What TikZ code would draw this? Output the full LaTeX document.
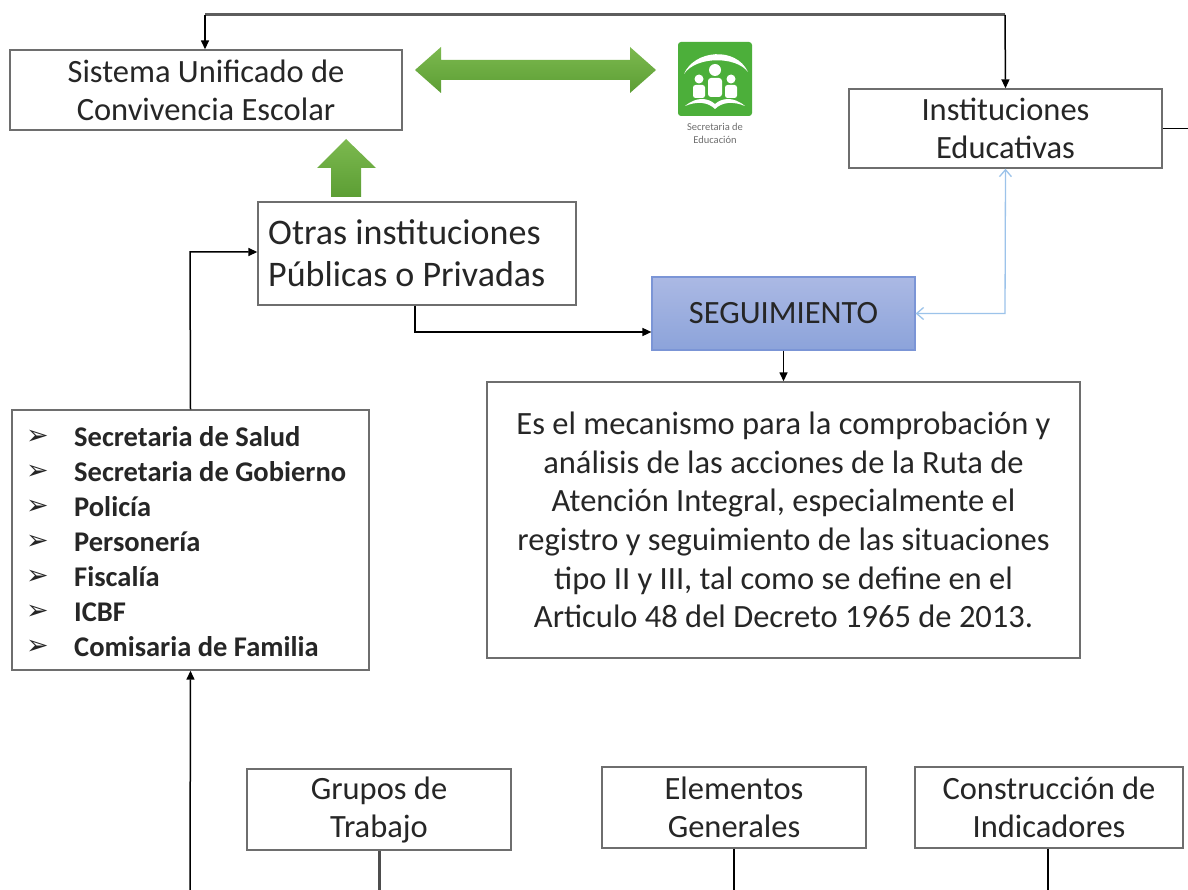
\documentclass[tikz,border=0pt]{standalone}
\usepackage{fontspec}
\setmainfont{Carlito}
\newfontfamily\dejavu{DejaVu Sans}
\usetikzlibrary{arrows.meta,positioning,calc}
\definecolor{boxgray}{HTML}{6E6E6E}
\definecolor{txt}{HTML}{262626}
\definecolor{gA}{HTML}{7CB94F}
\definecolor{gB}{HTML}{5C9E34}
\definecolor{logogreen}{HTML}{4CAF3A}
\definecolor{blueA}{HTML}{ABB9E4}
\definecolor{blueB}{HTML}{8CA3DA}
\definecolor{blueE}{HTML}{7B95D6}
\definecolor{lblue}{HTML}{9CC3EA}
\tikzset{
  box/.style={draw=boxgray, line width=1.4pt, fill=white, text=txt, align=center, inner sep=0pt},
  conn/.style={draw=black, line width=1.5pt, -{Triangle[length=9pt,width=8pt]}},
  plain/.style={draw=black, line width=1.5pt},
  bigtxt/.style={font=\fontsize{32.5}{38}\selectfont},
}
\begin{document}
\begin{tikzpicture}[x=1pt,y=-1pt]
\useasboundingbox (0,0) rectangle (1188,890);
\fill[white] (0,0) rectangle (1188,890);

% boxes
\node[box, bigtxt, minimum width=392pt, minimum height=80pt] (suce) at (206,90) {Sistema Unificado de\\Convivencia Escolar};
\node[box, bigtxt, minimum width=313pt, minimum height=79pt] (inst) at (1005.5,128.5) {Instituciones\\Educativas};
\node[box, minimum width=318pt, minimum height=103pt] (otras) at (417,253.5) {};
\node[anchor=west, inner sep=0pt, align=left, text=txt, font=\fontsize{36}{42}\selectfont] (otrastxt) at (268,253.5) {Otras instituciones\\Públicas o Privadas};
\node[draw=blueE, line width=1.2pt, top color=blueA, bottom color=blueB, text=txt, font=\fontsize{32.5}{36}\selectfont, minimum width=263pt, minimum height=73pt, inner sep=0pt] (seg) at (783.5,313.5) {SEGUIMIENTO};
\node[box, font=\fontsize{32.5}{38.6}\selectfont, minimum width=593pt, minimum height=276pt] (desc) at (783.5,520) {Es el mecanismo para la comprobación y\\análisis de las acciones de la Ruta de\\Atención Integral, especialmente el\\registro y seguimiento de las situaciones\\tipo II y III, tal como se define en el\\Articulo 48 del Decreto 1965 de 2013.};
\node[box, minimum width=357pt, minimum height=260pt] (list) at (190.5,540) {};
\foreach \t [count=\i] in {Secretaria de Salud,Secretaria de Gobierno,Policía,Personería,Fiscalía,ICBF,Comisaria de Familia}{
  \node[anchor=west, inner sep=0pt, font=\dejavu\fontsize{27}{27}\selectfont, text=txt] (b\i) at (26,{437+(\i-1)*35}) {➢};
  \node[anchor=west, inner sep=0pt, font=\bfseries\fontsize{28.5}{30}\selectfont, text=txt] (l\i) at (74,{437+(\i-1)*35}) {\t};
}
\node[box, bigtxt, minimum width=264pt, minimum height=81pt] (grupos) at (379,809.5) {Grupos de\\Trabajo};
\node[box, bigtxt, minimum width=264pt, minimum height=81pt] (elem) at (734,807.5) {Elementos\\Generales};
\node[box, bigtxt, minimum width=268pt, minimum height=81pt] (cons) at (1049,807.5) {Construcción de\\Indicadores};

% top connector
\coordinate (t1) at (205,15);
\coordinate (t2) at (1005,15);
\draw[draw=boxgray!85!black, line width=3pt] (t1) -- (t2);
\draw[conn] (t1) -- (suce.north -| t1);
\draw[conn] (t2) -- (inst.north);

% inst to the right edge
\coordinate (rEdge) at (1188,128.5);
\draw[plain] (inst.east) -- (rEdge);

% list up to otras
\coordinate (lUp) at (190,252);
\draw[conn] (list.north) -- (lUp) -- (otras.west |- lUp);
% bottom to list
\coordinate (bIn) at (190,890);
\draw[conn] (bIn) -- (list.south);

% otras to seguimiento
\coordinate (oDown) at (415,332);
\draw[conn] (otras.south -| oDown) -- (oDown) -- (seg.west |- oDown);

% seguimiento to desc
\draw[conn] (seg.south) -- (desc.north);

% light blue double arrow
\coordinate (bc) at (1005,313.5);
\draw[draw=lblue, line width=1.3pt, {Straight Barb[length=7pt,width=12pt]}-{Straight Barb[length=7pt,width=12pt]}] (seg.east) -- (bc) -- (inst.south);

% bottom lines
\coordinate (g1) at (379,890);
\coordinate (g2) at (734,890);
\coordinate (g3) at (1048,890);
\draw[plain, draw=boxgray!70!black, line width=3pt] (grupos.south) -- (g1);
\draw[plain] (elem.south) -- (g2);
\draw[plain] (cons.south -| g3) -- (g3);

% green double arrow
\shade[top color=gA, bottom color=gB] (415,70) -- (441,47) -- (441,60) -- (630,60) -- (630,47) -- (656,70) -- (630,93) -- (630,80) -- (441,80) -- (441,93) -- cycle;
% green up arrow
\shade[top color=gA, bottom color=gB] (346,139) -- (376,168) -- (361,168) -- (361,197) -- (331,197) -- (331,168) -- (317,168) -- cycle;

% logo
\fill[logogreen, rounded corners=3pt] (678,42) rectangle (752,116);
\fill[white] (684,74) .. controls (694,50) and (736,46) .. (748,72) .. controls (736,56) and (696,56) .. (684,74) -- cycle;
% people
\fill[white] (715,70) circle (6);
\fill[white, rounded corners=3pt] (708,78) rectangle (722,97);
\fill[white] (699,79) circle (4.5);
\fill[white, rounded corners=2.5pt] (693,85) rectangle (705,98);
\fill[white] (731,79) circle (4.5);
\fill[white, rounded corners=2.5pt] (725,85) rectangle (737,98);
% book
\fill[white] (685,106) .. controls (697,96) and (708,98) .. (715,104) .. controls (722,98) and (733,96) .. (745,106) .. controls (733,101) and (722,102) .. (715,109) .. controls (708,102) and (697,101) .. (685,106) -- cycle;
\node[font=\fontsize{10.5}{13}\selectfont, text=boxgray, align=center, inner sep=0pt] (logotxt) at (715,133.5) {Secretaria de\\Educación};
\end{tikzpicture}
\end{document}
